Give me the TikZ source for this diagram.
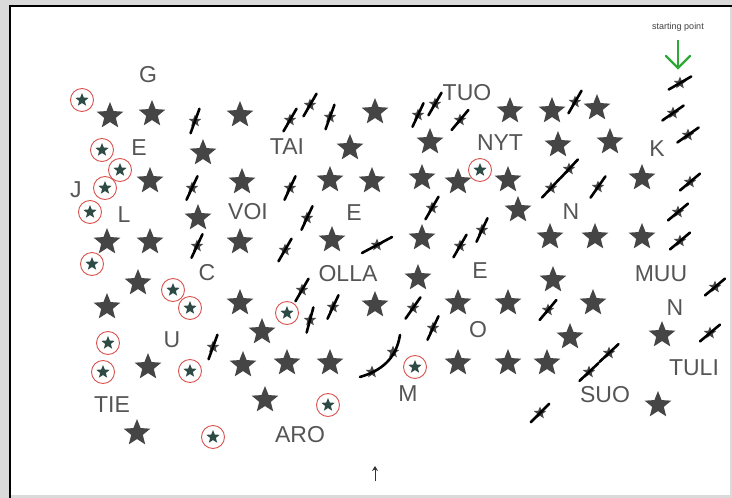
\documentclass[tikz,border=0pt]{standalone}
\usepackage{fontspec}
\setmainfont{Liberation Sans}
\usetikzlibrary{shapes.geometric,arrows.meta}
\definecolor{stargray}{HTML}{454545}
\definecolor{labgray}{HTML}{555555}
\definecolor{ringred}{HTML}{D9534F}
\definecolor{innerstar}{HTML}{2E4A45}
\definecolor{startgreen}{HTML}{2EA836}
\definecolor{outergray}{HTML}{DADADA}
\tikzset{
 bstar/.style={star, star points=5, star point ratio=2.3, fill=stargray, minimum size=28pt, inner sep=0pt},
 sstar/.style={star, star points=5, star point ratio=2.3, fill=stargray, minimum size=13pt, inner sep=0pt},
 istar/.style={star, star points=5, star point ratio=2.3, fill=innerstar, minimum size=14pt, inner sep=0pt},
 ring/.style={circle, draw=ringred, line width=0.9pt, minimum size=23pt, inner sep=0pt},
 slash/.style={line width=2.6pt, line cap=round, black},
 lab/.style={font=\fontsize{23}{23}\selectfont, text=labgray, inner sep=0pt},
}
\newcommand\Pstar[2]{\node[bstar] at (#1,#2) {};}
\newcommand\Xstar[4][13]{\node[sstar] at (#2,#3) {};\draw[slash, shift={(#2,#3)}, rotate=#4] (-#1pt,0pt) -- (#1pt,0pt);}
\newcommand\Cstar[2]{\node[ring] at (#1,#2) {};\node[istar] at (#1,#2) {};}
\begin{document}
\begin{tikzpicture}[x=1pt,y=-1pt]
\useasboundingbox (0,0) rectangle (732,498);
\fill[outergray] (0,0) rectangle (732,498);
\fill[white] (10,6) rectangle (730,495);
\draw[black, line width=2pt] (10,498) -- (10,6) -- (732,6);
% plain stars
\foreach \a/\b in {110/116,152/114,240/115,375/112,510/111,552/111,597/108,
 203/153,350/148,430/142,558/145,610/142,
 150/181,242/182,330/180,372/181,422/178,458/182,508/180,642/178,
 198/218,518/210,
 107/242,150/242,240/242,332/240,422/238,550/237,595/237,642/237,
 138/283,418/278,553/280,
 107/307,240/303,375/305,458/303,508/303,593/303,
 262/332,570/337,662/335,
 148/367,243/365,287/363,330/363,458/363,508/363,547/363,
 265/400,658/405,137/433}{\Pstar{\a}{\b}}
% circled stars
\foreach \a/\b in {82/100,102/150,120/170,105/188,90/212,92/264,173/290,190/308,
 108/343,103/372,190/371,213/437,287/313,328/405,415/367,480/170}{\Cstar{\a}{\b}}
% crossed stars
\foreach \a/\b/\c in {195/121/70,192/188/65,197/246/65,213/347/70,
 290/120/60,310/105/60,330/117/70,418/115/65,435/104/60,460/120/50,
 290/188/65,307/218/65,432/208/60,
 285/250/60,460/246/60,482/230/65,
 302/290/60,310/320/75,333/307/65,413/308/55,433/328/65,
 575/102/60,551/188/47,569/169/47,598/187/55,
 680/83/30,673/113/35,688/135/35,690/182/40,678/212/40,680/241/40,
 715/287/40,710/333/40,548/310/50,589/372/43,609/353/43,540/413/45}{\Xstar{\a}{\b}{\c}}
\Xstar[17]{377}{245}{28}
% curved crossed stars
\node[sstar] at (372,372) {};
\node[sstar] at (393,352) {};
\draw[slash] (360,377) .. controls (380,371) and (396,360) .. (400,335);
% labels
\node[lab] (g) at (148,75) {G};
\node[lab] (e1) at (139,148) {E};
\node[lab] (j) at (76,190) {J};
\node[lab] (l) at (124,215) {L};
\node[lab] (tai) at (287,147) {TAI};
\node[lab] (voi) at (248,212) {VOI};
\node[lab] (e2) at (354,213) {E};
\node[lab] (c) at (207,273) {C};
\node[lab] (olla) at (348,274) {OLLA};
\node[lab] (e3) at (480,271) {E};
\node[lab] (tuo) at (467,93) {TUO};
\node[lab] (nyt) at (500,143) {NYT};
\node[lab] (k) at (657,149) {K};
\node[lab] (n1) at (571,212) {N};
\node[lab] (muu) at (661,274) {MUU};
\node[lab] (n2) at (675,308) {N};
\node[lab] (tuli) at (694,368) {TULI};
\node[lab] (o) at (478,330) {O};
\node[lab] (u) at (172,340) {U};
\node[lab] (tie) at (112,405) {TIE};
\node[lab] (m) at (408,394) {M};
\node[lab] (suo) at (605,395) {SUO};
\node[lab] (aro) at (300,435) {ARO};
% starting point
\node[font=\fontsize{9}{9}\selectfont, text=black!75, inner sep=0pt] (sp) at (678,27) {starting point};
\coordinate (sa) at (678,40);
\coordinate (sb) at (678,68);
\draw[startgreen, line width=2.4pt] (sa) -- (sb);
\draw[startgreen, line width=2.4pt, line cap=round, line join=miter] (666,56) -- (sb) -- (690,56);
% small arrow at bottom
\coordinate (ba) at (375,481);
\coordinate (bb) at (375,466);
\draw[black!80, line width=1pt, -{Stealth[length=5pt,width=6pt]}] (ba) -- (bb);
\end{tikzpicture}
\end{document}
